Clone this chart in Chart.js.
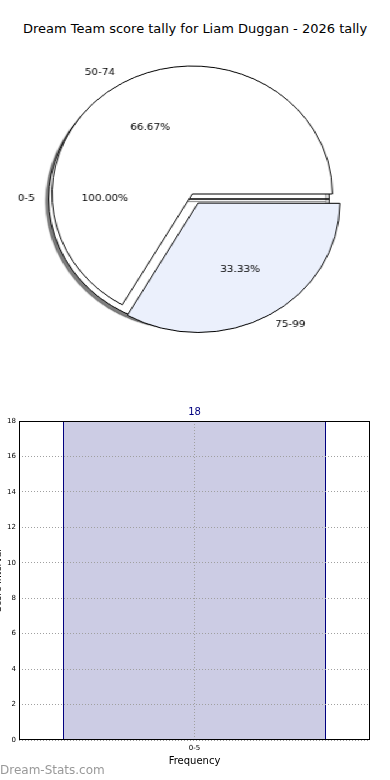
<!DOCTYPE html>
<html>
<head>
<meta charset="utf-8">
<script src="https://cdn.jsdelivr.net/npm/chart.js@4.4.1/dist/chart.umd.min.js"></script>
<style>
  body { margin: 0; width: 390px; height: 780px; background: #fff; overflow: hidden; position: relative; font-family: "DejaVu Sans", sans-serif; }
  #title { position: absolute; top: 21px; left: 0; width: 390px; text-align: center; font-size: 13px; color: #000; }
  #pieBox { position: absolute; top: 0; left: 0; width: 356px; height: 390px; transform: scaleX(1.0955); transform-origin: 0 0; }
  #pieBox canvas { position: absolute; top: 0; left: 0; }
  #barChart { position: absolute; top: 390px; left: -8px; }
  #mark { position: absolute; left: 0; top: 763px; font-size: 12px; color: #999; }
</style>
</head>
<body>
<div id="title">Dream Team score tally for Liam Duggan - 2026 tally</div>
<div id="pieBox">
  <canvas id="pieBack" width="356" height="390"></canvas>
  <canvas id="pieFront" width="356" height="390"></canvas>
</div>
<canvas id="barChart" width="398" height="390"></canvas>
<div id="mark">Dream-Stats.com</div>
<script>
// pie data
const pieLabels = ['0-5', '50-74', '75-99'];
const piePercents = [100.00, 66.67, 33.33];

// bar data
const barCategories = ['0-5'];
const barValues = [18];
const yMax = 18;
const yStep = 2;

Chart.defaults.font.family = '"DejaVu Sans", sans-serif';
Chart.defaults.color = '#000';

// label + percentage text for every wedge of a pie chart, written on ctx
function drawPieLabels(ctx, chart) {
    const meta = chart.getDatasetMeta(0);
    const values = chart.data.datasets[0].data;
    ctx.save();
    ctx.font = '9.5px "DejaVu Sans"';
    ctx.fillStyle = '#000';
    ctx.textBaseline = 'middle';
    meta.data.forEach((arc, i) => {
        const p = arc.getProps(['x', 'y', 'startAngle', 'endAngle', 'outerRadius'], true);
        const mid = (p.startAngle + p.endAngle) / 2;
        const off = (arc.options.offset || 0) / 4;
        const cx = p.x + Math.cos(mid) * off;
        const cy = p.y + Math.sin(mid) * off;
        const r = p.outerRadius;
        ctx.textAlign = Math.cos(mid) > 0 ? 'left' : 'right';
        ctx.fillText(chart.data.labels[i], cx + Math.cos(mid) * r * 1.1, cy + Math.sin(mid) * r * 1.1);
        ctx.textAlign = 'center';
        ctx.fillText(values[i].toFixed(2) + '%', cx + Math.cos(mid) * r * 0.6, cy + Math.sin(mid) * r * 0.6);
    });
    ctx.restore();
}

const shadowPlugin = {
    id: 'pieShadow',
    beforeDatasetsDraw(chart) {
        const ctx = chart.ctx;
        ctx.save();
        ctx.shadowColor = 'rgba(0,0,0,0.5)';
        ctx.shadowOffsetX = -2.5;
        ctx.shadowOffsetY = 2.5;
        ctx.shadowBlur = 1;
    },
    afterDatasetsDraw(chart) {
        chart.ctx.restore();
    }
};

const pieBase = {
    responsive: false,
    animation: false,
    devicePixelRatio: 1,
    plugins: { legend: { display: false }, tooltip: { enabled: false } }
};

// full 0-5 wedge underneath
const backPie = new Chart(document.getElementById('pieBack'), {
    type: 'pie',
    data: {
        labels: [pieLabels[0]],
        datasets: [{
            data: [piePercents[0]],
            backgroundColor: ['#ffffff'],
            borderColor: '#000',
            borderWidth: 1,
            radius: 128,
            rotation: 90
        }]
    },
    options: Object.assign({}, pieBase, { layout: { padding: { left: 0, right: 11, top: 8, bottom: 0 } } }),
    plugins: [shadowPlugin]
});

// 50-74 and 75-99 on top, drawn clockwise from the east
new Chart(document.getElementById('pieFront'), {
    type: 'pie',
    data: {
        labels: [pieLabels[2], pieLabels[1]],
        datasets: [{
            data: [piePercents[2], piePercents[1]],
            backgroundColor: ['#ebf0fc', '#ffffff'],
            borderColor: '#000',
            borderWidth: 1,
            offset: [42, 0],
            radius: 128,
            rotation: 90
        }]
    },
    options: Object.assign({}, pieBase, { layout: { padding: { left: 0, right: 5, top: 0, bottom: 2 } } }),
    plugins: [{
        id: 'pieLabels',
        afterDatasetsDraw(chart) {
            drawPieLabels(chart.ctx, backPie);
            drawPieLabels(chart.ctx, chart);
        }
    }]
});

const barTopLabel = {
    id: 'barTopLabel',
    afterDatasetsDraw(chart) {
        const ctx = chart.ctx;
        const meta = chart.getDatasetMeta(0);
        ctx.save();
        ctx.font = '10px "DejaVu Sans"';
        ctx.fillStyle = '#000080';
        ctx.textAlign = 'center';
        ctx.textBaseline = 'middle';
        meta.data.forEach((bar, i) => {
            ctx.fillText(String(barValues[i]), bar.x, bar.y - 9);
        });
        ctx.restore();
    },
    afterDraw(chart) {
        const a = chart.chartArea;
        const ctx = chart.ctx;
        ctx.save();
        ctx.strokeStyle = '#000';
        ctx.lineWidth = 1;
        ctx.strokeRect(a.left + 0.5, a.top + 0.5, a.right - a.left - 1, a.bottom - a.top - 1);
        ctx.restore();
    }
};

new Chart(document.getElementById('barChart'), {
    type: 'bar',
    data: {
        labels: barCategories,
        datasets: [{
            data: barValues,
            backgroundColor: '#ccccE4',
            borderColor: '#000080',
            borderWidth: { left: 1, right: 1, top: 1, bottom: 0 },
            borderSkipped: false,
            categoryPercentage: 1,
            barPercentage: 0.7493
        }]
    },
    options: {
        responsive: false,
        animation: false,
        devicePixelRatio: 1,
        layout: { padding: { left: 0, right: 20, top: 31, bottom: 0 } },
        plugins: { legend: { display: false }, tooltip: { enabled: false } },
        scales: {
            x: {
                grid: { offset: false, color: '#a0a0a0', drawTicks: false, z: 1 },
                border: { display: false, dash: [1, 2] },
                ticks: { font: { size: 7 }, padding: 4 },
                title: { display: true, text: 'Frequency', font: { size: 10 }, padding: { top: 0, bottom: 13 } },
                afterFit(scale) { scale.height = 40; }
            },
            y: {
                min: 0,
                max: yMax,
                ticks: { stepSize: yStep, font: { size: 7 }, padding: 3 },
                grid: { color: '#a0a0a0', drawTicks: false, z: 1 },
                border: { display: false, dash: [1, 2] },
                title: { display: true, text: 'Score Interval', font: { size: 9 }, padding: { top: 1, bottom: 0 } },
                afterFit(scale) { scale.width = 27; }
            }
        }
    },
    plugins: [barTopLabel]
});
</script>
</body>
</html>
